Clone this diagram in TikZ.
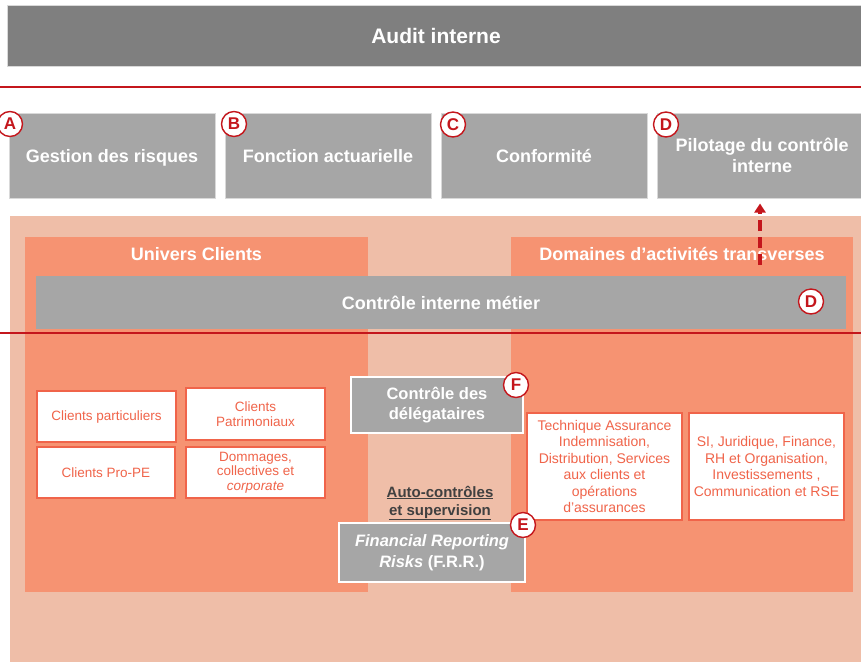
\documentclass[tikz,border=0pt]{standalone}
\usepackage{fontspec}
\setmainfont{Liberation Sans}
\usetikzlibrary{arrows.meta}
\definecolor{auditgray}{HTML}{7F7F7F}
\definecolor{boxgray}{HTML}{A6A6A6}
\definecolor{lightline}{HTML}{D9D9D9}
\definecolor{darkred}{HTML}{C4161C}
\definecolor{peach}{HTML}{EFBEA8}
\definecolor{salmon}{HTML}{F69372}
\definecolor{clientred}{HTML}{F0644A}
\definecolor{textgray}{HTML}{404040}

\begin{document}
\begin{tikzpicture}[x=1pt,y=-1pt,>={Triangle[width=11pt,length=9pt]}]
\tikzstyle{every node}=[inner sep=0pt,align=center];
\tikzstyle{graybox}=[fill=boxgray,draw=lightline,line width=1pt,text=white,text depth=0pt,font=\fontsize{18}{21.5}\selectfont\bfseries];
\tikzstyle{framedbox}=[fill=boxgray,draw=white,line width=2.5pt,text=white,font=\fontsize{16.5}{20.5}\selectfont\bfseries];
\tikzstyle{zonebox}=[fill=salmon,draw=none];
\tikzstyle{zonetitle}=[text=white,font=\fontsize{18}{21.5}\selectfont\bfseries];
\tikzstyle{clientbox}=[fill=white,draw=clientred,line width=1.2pt,text=clientred,font=\fontsize{13.5}{14.5}\selectfont];
\tikzstyle{domainbox}=[fill=white,draw=clientred,line width=1.2pt,text=clientred,font=\fontsize{14}{16.5}\selectfont];
\tikzstyle{letterdisc}=[circle,fill=white,draw=darkred,line width=1.4pt,minimum size=25pt,text=darkred,font=\fontsize{17}{17}\selectfont\bfseries];
\tikzstyle{redline}=[draw=darkred,line width=2.2pt];
\useasboundingbox (0,0) rectangle (861,662);
% top
    \node[fill=auditgray,draw=lightline,line width=1pt,text=white,minimum width=858,minimum height=61,
          font=\fontsize{21}{24}\selectfont\bfseries] (audit) at (436,35.5) {Audit interne};
    \coordinate (l1w) at (0,87);
    \coordinate (l1e) at (861,87);
    \draw[redline] (l1w) -- (l1e);
% second line functions
    \node[graybox,minimum width=206,minimum height=85] (risques) at (112,155.5) {Gestion des risques};
    \node[graybox,minimum width=206,minimum height=85] (actuariat) at (328,155.5) {Fonction actuarielle};
    \node[graybox,minimum width=206,minimum height=85] (conformite) at (544,155.5) {Conformité};
    \node[graybox,minimum width=210,minimum height=85] (pilotage) at (762,155.5) {Pilotage du contrôle\\interne};
    \node[letterdisc] (lA) at (10,124) {A};
    \node[letterdisc] (lB) at (234,124) {B};
    \node[letterdisc] (lC) at (453,124.5) {C};
    \node[letterdisc] (lD) at (666,124.5) {D};
% first line: business zones
    \node[fill=peach,minimum width=856,minimum height=446] (metier) at (438,439) {};
    \node[zonebox,minimum width=343,minimum height=355] (univers) at (196.5,414.5) {};
    \node[zonebox,minimum width=342,minimum height=355] (domaines) at (682,414.5) {};
    \node[zonetitle] (tunivers) at ([yshift=-17]univers.north) {Univers Clients};
    \node[zonetitle] (tdomaines) at ([yshift=-17]domaines.north) {Domaines d’activités transverses};
    \node[fill=boxgray,text=white,minimum width=810,minimum height=53,
          font=\fontsize{18}{21.5}\selectfont\bfseries] (cim) at (441,302.5) {Contrôle interne métier};
    \node[letterdisc] (lD2) at (811,301.5) {D};
    \coordinate (l2w) at (0,333);
    \coordinate (l2e) at (861,333);
    \draw[redline] (l2w) -- (l2e);
% clients
    \node[clientbox,minimum width=139,minimum height=51] (cpart) at (106.5,416.5) {Clients particuliers};
    \node[clientbox,minimum width=139,minimum height=52] (cpatri) at (255.5,414) {Clients\\Patrimoniaux};
    \node[clientbox,minimum width=138,minimum height=51] (cpro) at (106,472.5) {Clients Pro-PE};
    \node[clientbox,minimum width=139,minimum height=51] (cdom) at (255.5,472.5) {Dommages,\\collectives et\\\textit{corporate}};
% transverse domains
    \node[domainbox,minimum width=155,minimum height=107] (tech) at (604.5,466.5)
        {Technique Assurance\\Indemnisation,\\Distribution, Services\\aux clients et\\opérations\\d’assurances};
    \node[domainbox,minimum width=155,minimum height=107] (si) at (766.5,466.5)
        {SI, Juridique, Finance,\\RH et Organisation,\\Investissements ,\\Communication et RSE};
% middle column
    \node[framedbox,minimum width=172,minimum height=56] (deleg) at (437,405) {Contrôle des\\délégataires};
    \node[letterdisc] (lF) at (516,385) {F};
    \node[text=textgray,font=\fontsize{15}{18}\selectfont\bfseries] (auto) at (440,503)
        {\underline{Auto-contrôles}\\\underline{et supervision}};
    \node[framedbox,minimum width=186,minimum height=59] (frr) at (432,552.5)
        {\textit{Financial Reporting}\\\textit{Risks} (F.R.R.)};
    \node[letterdisc] (lE) at (523,525) {E};
% edges
    \coordinate (pstart) at (760,265);
    \draw[->,darkred,line width=3.5pt,dash pattern=on 11pt off 6pt,shorten >=5pt] (pstart) -- (pstart |- pilotage.south);
\end{tikzpicture}
\end{document}
